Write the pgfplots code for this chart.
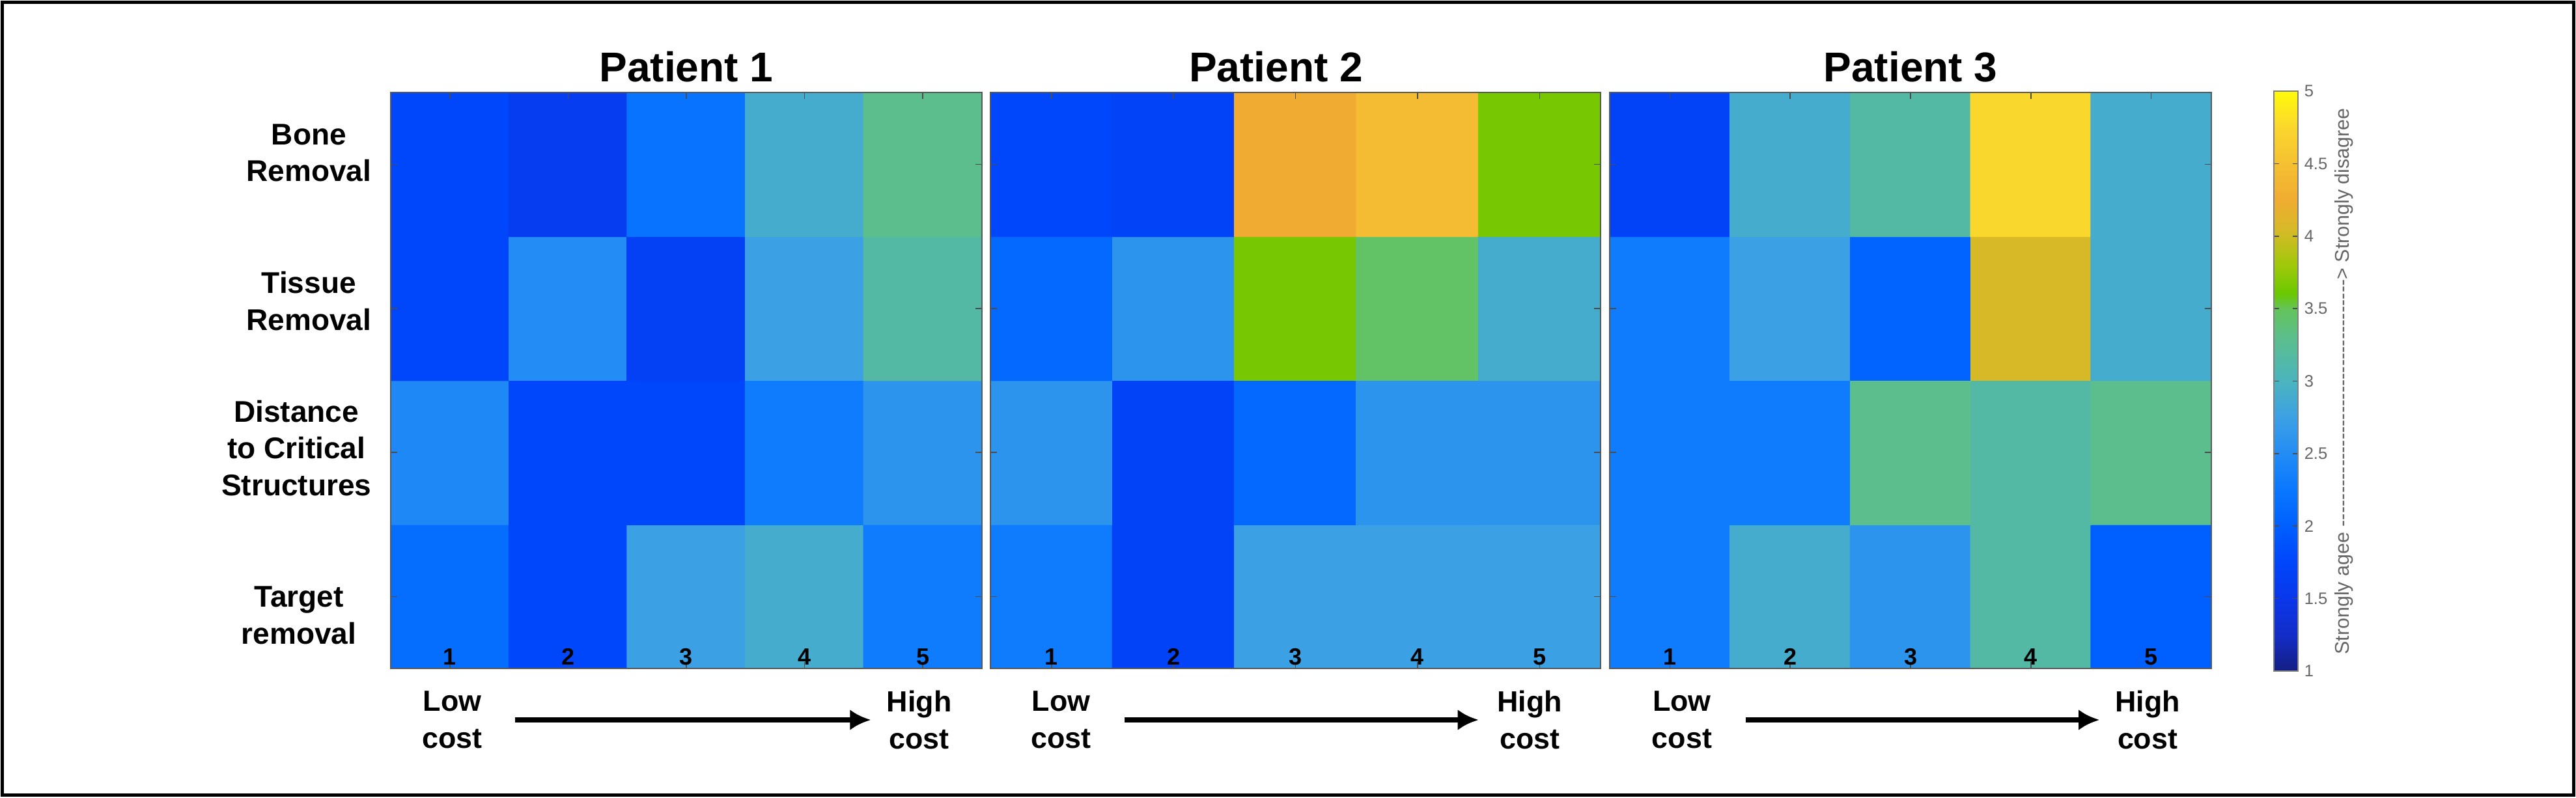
\documentclass[border=0pt]{standalone}
\usepackage{pgfplots}
\pgfplotsset{compat=1.18}
\usepackage{pgfplotstable}
\usepackage{fontspec}
\setmainfont{Liberation Sans}
\usetikzlibrary{arrows.meta}

\pgfplotsset{
  colormap={agree}{
    rgb255(0cm)=(20,30,130)
    rgb255(0.25cm)=(20,45,200)
    rgb255(0.5cm)=(10,55,235)
    rgb255(0.75cm)=(0,70,250)
    rgb255(1cm)=(0,95,255)
    rgb255(1.25cm)=(10,120,255)
    rgb255(1.5cm)=(35,140,245)
    rgb255(1.75cm)=(60,160,228)
    rgb255(2cm)=(75,180,190)
    rgb255(2.3cm)=(92,190,140)
    rgb255(2.5cm)=(100,195,90)
    rgb255(2.6cm)=(105,200,0)
    rgb255(2.8cm)=(160,200,10)
    rgb255(3.05cm)=(215,185,40)
    rgb255(3.25cm)=(240,172,50)
    rgb255(3.5cm)=(245,192,50)
    rgb255(3.75cm)=(250,215,45)
    rgb255(4cm)=(255,250,10)
  },
  heat/.style={
    scale only axis, height=221.25pt,
    xmin=0.5, xmax=5.5, ymin=0.5, ymax=4.5,
    enlargelimits=false,
    colormap name=agree, point meta min=1, point meta max=5,
    axis line style={draw=black!65, line width=0.6pt},
    xtick={1,2,3,4,5}, xticklabels={1,2,3,4,5},
    xticklabel style={anchor=south, inner sep=0pt, yshift=1.2pt,
      font=\fontsize{9}{10}\selectfont\bfseries},
    ytick={1,2,3,4}, yticklabels={},
    tick style={black!70, line width=0.4pt},
    major tick length=2.5pt,
    clip=false,
    axis on top,
    title style={anchor=base, yshift=-1.75pt, inner sep=0pt,
      font=\fontsize{16}{19}\selectfont\bfseries},
  },
}
\tikzset{
  lab/.style={align=center, inner sep=0pt,
    font=\fontsize{11.2}{14.25}\selectfont\bfseries},
  arr/.style={-{Latex[length=8pt,width=8pt]}, line width=1.8pt},
}

% rows: y=1 Target removal, y=2 Distance, y=3 Tissue, y=4 Bone; x = cost level 1..5
\pgfplotstableread{
x y c
1 1 2.15
2 1 1.75
3 1 2.75
4 1 2.90
5 1 2.30
1 2 2.45
2 2 1.75
3 2 1.75
4 2 2.30
5 2 2.60
1 3 1.75
2 3 2.50
3 3 1.65
4 3 2.75
5 3 3.15
1 4 1.75
2 4 1.60
3 4 2.20
4 4 2.90
5 4 3.30
}\pone

\pgfplotstableread{
x y c
1 1 2.30
2 1 1.70
3 1 2.75
4 1 2.75
5 1 2.75
1 2 2.60
2 2 1.70
3 2 2.10
4 2 2.60
5 2 2.60
1 3 2.10
2 3 2.60
3 3 3.65
4 3 3.45
5 3 2.90
1 4 1.75
2 4 1.70
3 4 4.25
4 4 4.45
5 4 3.65
}\ptwo

\pgfplotstableread{
x y c
1 1 2.30
2 1 2.90
3 1 2.60
4 1 3.15
5 1 2.00
1 2 2.30
2 2 2.30
3 2 3.30
4 2 3.15
5 2 3.30
1 3 2.30
2 3 2.75
3 3 2.05
4 3 4.05
5 3 2.90
1 4 1.70
2 4 2.90
3 4 3.15
4 4 4.75
5 4 2.90
}\pthree

\begin{document}
\begin{tikzpicture}
\path[use as bounding box] (0,0) rectangle (989pt,306.25pt);
\draw[line width=1.1pt] (0.9pt,0.9pt) rectangle (988.1pt,305.35pt);

% Patient 1
\begin{axis}[heat, at={(150pt,49.5pt)}, anchor=south west, width=227pt,
  title={Patient 1},
  yticklabel style={align=center, anchor=east, inner sep=0pt, xshift=-7.25pt,
    font=\fontsize{11.5}{14.2}\selectfont\bfseries},
  extra y ticks={0.87,2.03,3.05,4.08},
  extra y tick labels={{Target\hspace*{5.75pt}\\removal\hspace*{5.75pt}},{Distance\\to Critical\\Structures},{Tissue\\Removal},{Bone\\Removal}},
  extra y tick style={major tick length=0pt},
]
\addplot[matrix plot*, mesh/cols=5, point meta=explicit] table[x=x,y=y,meta=c]{\pone};
\node[lab] at (axis cs:1.02,0.143) {Low\\cost};
\node[lab] at (axis cs:4.97,0.143) {High\\cost};
\draw[arr] (axis cs:1.55,0.143) -- (axis cs:4.56,0.143);
\end{axis}

% Patient 2
\begin{axis}[heat, at={(380.25pt,49.5pt)}, anchor=south west, width=234.25pt,
  title={Patient 2}, title style={xshift=-7.5pt},
]
\addplot[matrix plot*, mesh/cols=5, point meta=explicit] table[x=x,y=y,meta=c]{\ptwo};
\node[lab] at (axis cs:1.08,0.143) {Low\\cost};
\node[lab] at (axis cs:4.92,0.143) {High\\cost};
\draw[arr] (axis cs:1.6,0.143) -- (axis cs:4.5,0.143);
\end{axis}

% Patient 3
\begin{axis}[heat, at={(618pt,49.5pt)}, anchor=south west, width=231pt,
  title={Patient 3},
  colorbar,
  colorbar style={
    at={(parent axis.north east)}, anchor=north west, xshift=15.5pt, yshift=0.5pt,
    scale only axis, width=9.25pt, height=222.75pt,
    ytick={1,1.5,...,5},
    yticklabel style={font=\fontsize{6.4}{7}\selectfont, text=black!60, inner sep=2.2pt},
    /pgf/number format/assume math mode=true,
    axis line style={draw=black!50, line width=0.5pt},
    major tick length=2pt,
    tick style={black!70, line width=0.4pt},
  },
]
\addplot[matrix plot*, mesh/cols=5, point meta=explicit] table[x=x,y=y,meta=c]{\pthree};
\node[lab] at (axis cs:1.1,0.143) {Low\\cost};
\node[lab] at (axis cs:4.97,0.143) {High\\cost};
\draw[arr] (axis cs:1.63,0.143) -- (axis cs:4.57,0.143);
\end{axis}

\node[rotate=90, inner sep=0pt, font=\fontsize{7.6}{8}\selectfont, text=black!60]
  at (900pt,159.75pt) {Strongly agee \hbox to 95pt{\xleaders\hbox{-}\hfill}> Strongly disagree};
\end{tikzpicture}
\end{document}
